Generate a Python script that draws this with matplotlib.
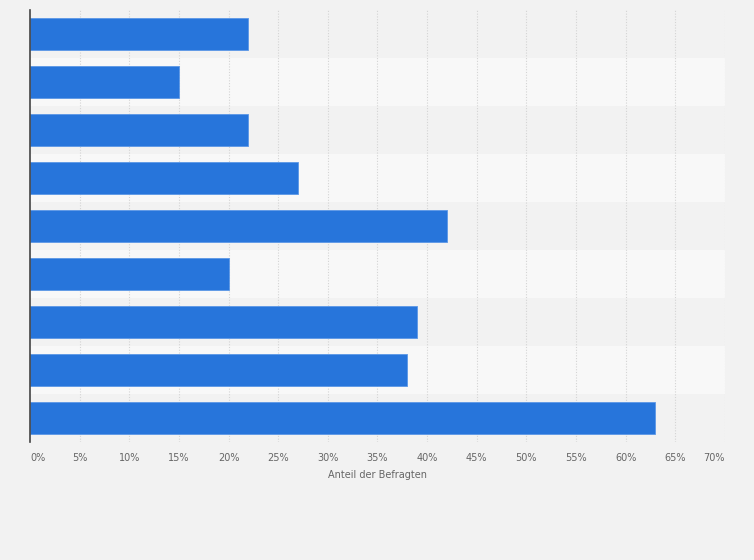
import matplotlib
import matplotlib.pyplot as plt
import numpy as np
from matplotlib.ticker import FuncFormatter

matplotlib.use("Agg")

# ── Data ──────────────────────────────────────────────────────────────────
# category labels are not shown in the reference
categories = [f"cat_{i}" for i in range(1, 10)]
shares = [22, 15, 22, 27, 42, 20, 39, 38, 63]
x_ticks = list(range(0, 75, 5))

BG = "#f2f2f2"
BAND = "#f8f8f8"
BAR = "#2775db"

fig = plt.figure(figsize=(7.54, 5.6), dpi=100, facecolor=BG)
ax = fig.add_axes([30 / 754, 118 / 560, 695 / 754, 432 / 560])
ax.set_facecolor(BG)

y = np.arange(len(categories))

# alternating row bands
for i in y:
    if i % 2 == 1:
        ax.axhspan(i - 0.5, i + 0.5, color=BAND, zorder=0, lw=0)

ax.barh(y, shares, height=0.68, color=BAR, edgecolor="#5b97e6",
        linewidth=0.6, zorder=3)

ax.set_xlim(0, 70)
ax.set_ylim(len(categories) - 0.5, -0.5)
ax.set_yticks([])

ax.set_xticks(x_ticks)
ax.xaxis.set_major_formatter(FuncFormatter(lambda v, _: f"{v:.0f}%"))
ax.tick_params(axis="x", length=0, pad=8, labelsize=7, labelcolor="#666666")
labels = ax.get_xticklabels()
labels[0].set_horizontalalignment("left")
labels[-1].set_horizontalalignment("right")

# dotted vertical gridlines
for xv in x_ticks[1:]:
    ax.axvline(xv, color="#d4d4d4", linewidth=0.8, linestyle=(0, (1, 1.5)),
               zorder=1)

for side in ("top", "right", "bottom"):
    ax.spines[side].set_visible(False)
ax.spines["left"].set_color("#444444")
ax.spines["left"].set_linewidth(1.2)
ax.spines["left"].set_zorder(4)

ax.set_xlabel("Anteil der Befragten", fontsize=7, color="#666666", labelpad=5)

fig.savefig("out.png", dpi=100, facecolor=BG)
